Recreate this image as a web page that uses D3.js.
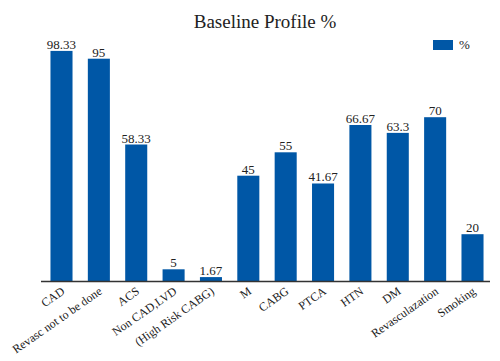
<!DOCTYPE html>
<html>
<head>
<meta charset="utf-8">
<script src="https://cdn.jsdelivr.net/npm/d3@7"></script>
<style>
  body { margin: 0; background: #fff; }
  text { font-family: "Liberation Serif", "DejaVu Serif", serif; fill: #222; }
</style>
</head>
<body>
<div class="chart"></div>
<script>
// chart data
var categories = ["CAD", "Revasc not to be done", "ACS", "Non CAD,LVD", "(High Risk CABG)",
  "M", "CABG", "PTCA", "HTN", "DM", "Revasculazation", "Smoking"];
var values = [98.33, 95, 58.33, 5, 1.67, 45, 55, 41.67, 66.67, 63.3, 70, 20];
var valueLabels = ["98.33", "95", "58.33", "5", "1.67", "45", "55", "41.67", "66.67", "63.3", "70", "20"];
var seriesName = "%";

var svgWidth = 500, svgHeight = 361;
var barColor = "#0057a6";

var svg = d3.select(".chart").append("svg")
  .attr("width", svgWidth)
  .attr("height", svgHeight);

var x = d3.scaleBand()
  .domain(categories)
  .range([43, 491])
  .paddingInner(0.41)
  .paddingOuter(0.2);

var y = d3.scaleLinear()
  .domain([0, 100])
  .range([281, 47]);

// title
svg.append("text")
  .attr("x", 265)
  .attr("y", 28)
  .attr("text-anchor", "middle")
  .style("font-size", "19px")
  .text("Baseline Profile %");

// bars
svg.selectAll("rect.bar")
  .data(values)
  .enter().append("rect")
  .attr("class", "bar")
  .attr("x", function (d, i) { return x(categories[i]); })
  .attr("y", function (d) { return y(d); })
  .attr("width", x.bandwidth())
  .attr("height", function (d) { return y(0) - y(d); })
  .attr("fill", barColor);

// value labels
svg.selectAll("text.val")
  .data(values)
  .enter().append("text")
  .attr("class", "val")
  .attr("x", function (d, i) { return x(categories[i]) + x.bandwidth() / 2; })
  .attr("y", function (d) { return y(d) - 2; })
  .attr("text-anchor", "middle")
  .style("font-size", "13px")
  .text(function (d, i) { return valueLabels[i]; });

// x axis line
var xAxis = d3.axisBottom(x).tickSize(0).tickPadding(0);
var gx = svg.append("g")
  .attr("transform", "translate(0,281)")
  .call(xAxis);
gx.select(".domain")
  .attr("d", "M41,0.5H490")
  .attr("stroke", "#333")
  .attr("stroke-width", 1.5);
gx.selectAll(".tick text")
  .attr("font-family", null)
  .attr("font-size", null)
  .style("font-size", "12px")
  .attr("text-anchor", "end")
  .attr("dy", null)
  .attr("y", 0)
  .attr("transform", "translate(4,12) rotate(-35)");

// legend
svg.append("rect")
  .attr("x", 433)
  .attr("y", 40)
  .attr("width", 20)
  .attr("height", 10)
  .attr("fill", barColor);
svg.append("text")
  .attr("x", 459)
  .attr("y", 49)
  .style("font-size", "13px")
  .text(seriesName);
</script>
</body>
</html>
